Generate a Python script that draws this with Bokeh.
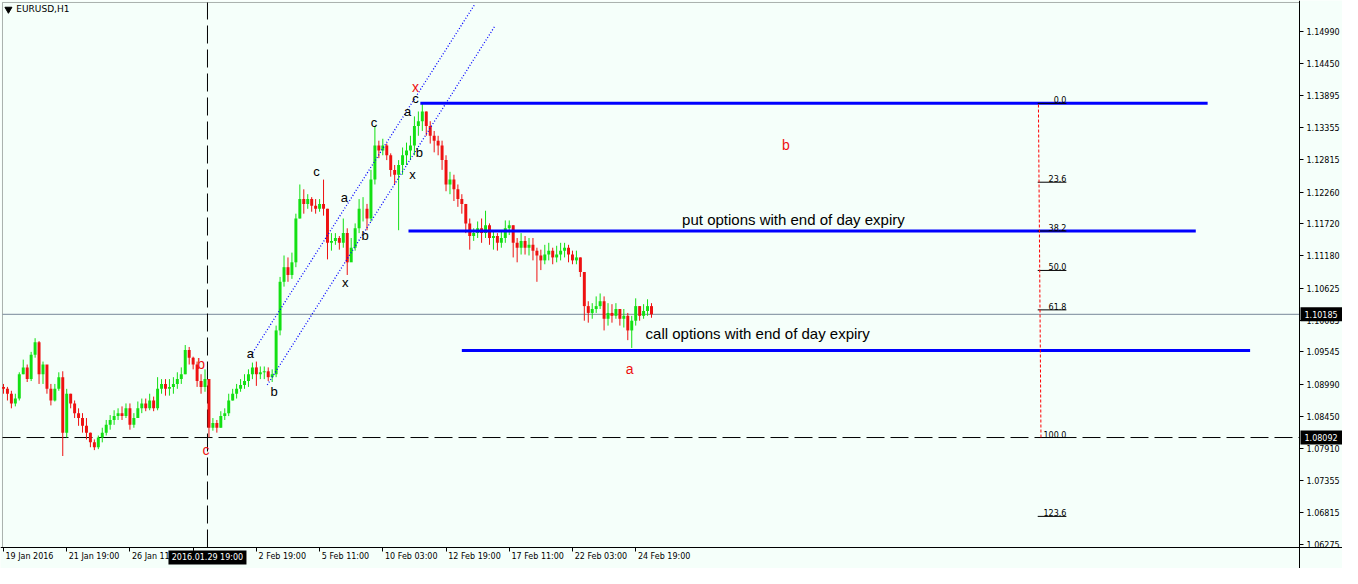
import numpy as np
from bokeh.plotting import figure
from bokeh.models import Range1d, FixedTicker, PrintfTickFormatter, ColumnDataSource, LinearAxis, BoxAnnotation
from bokeh.core.properties import value
from bokeh.embed import file_html
from bokeh.resources import INLINE

symbol = "EURUSD,H1"
bar_step = 4  # hours per drawn bar (H1 chart read at 4-hour resolution)
first_open = 1.08950

close = [1.08919, 1.08836, 1.08671, 1.08754, 1.09167, 1.09283, 1.09084, 1.09498, 1.09712, 1.09167,
         1.09332, 1.08919, 1.08721, 1.08919, 1.09117, 1.08175, 1.08836, 1.08671, 1.08506, 1.08423,
         1.08291, 1.08175, 1.08010, 1.07927, 1.08093, 1.08175, 1.08307, 1.08390, 1.08456, 1.08506,
         1.08456, 1.08588, 1.08307, 1.08423, 1.08588, 1.08671, 1.08588, 1.08721, 1.08588, 1.08919,
         1.09002, 1.08919, 1.08952, 1.09002, 1.09084, 1.09167, 1.09580, 1.09448, 1.09332, 1.09051,
         1.08952, 1.09084, 1.08258, 1.08340, 1.08258, 1.08456, 1.08506, 1.08721, 1.08836, 1.08919,
         1.08985, 1.09051, 1.09167, 1.09283, 1.09167, 1.09200, 1.09217, 1.09117, 1.09167, 1.09911,
         1.10737, 1.10985, 1.10853, 1.11068, 1.11812, 1.12142, 1.12060, 1.12142, 1.12027, 1.11977,
         1.12060, 1.11977, 1.11399, 1.11432, 1.11481, 1.11399, 1.11564, 1.11068, 1.11316, 1.11646,
         1.11977, 1.11977, 1.11812, 1.12473, 1.13052, 1.12969, 1.13052, 1.12886, 1.12638, 1.12556,
         1.12721, 1.12886, 1.12969, 1.13052, 1.13382, 1.13465, 1.13630, 1.13382, 1.13217, 1.13134,
         1.13052, 1.12804, 1.12390, 1.12473, 1.12308, 1.12142, 1.12060, 1.11729, 1.11514, 1.11564,
         1.11646, 1.11564, 1.11696, 1.11481, 1.11514, 1.11399, 1.11481, 1.11646, 1.11696, 1.11399,
         1.11316, 1.11432, 1.11316, 1.11365, 1.11266, 1.11184, 1.11101, 1.11200, 1.11266, 1.11151,
         1.11200, 1.11266, 1.11316, 1.11200, 1.11101, 1.11151, 1.10903, 1.10324, 1.10208, 1.10275,
         1.10324, 1.10407, 1.10109, 1.10208, 1.10159, 1.10275, 1.10109, 1.10159, 1.09911, 1.10076,
         1.10324, 1.10159, 1.10241, 1.10324, 1.10185]

high = [1.09002, 1.08952, 1.08886, 1.08836, 1.09200, 1.09415, 1.09332, 1.09547, 1.09779, 1.09730,
        1.09382, 1.09250, 1.09002, 1.09002, 1.09200, 1.09217, 1.08919, 1.08836, 1.08721, 1.08588,
        1.08506, 1.08423, 1.08175, 1.08059, 1.08126, 1.08258, 1.08390, 1.08473, 1.08555, 1.08588,
        1.08621, 1.08671, 1.08671, 1.08506, 1.08704, 1.08754, 1.08754, 1.08836, 1.08787, 1.09117,
        1.09084, 1.09084, 1.09084, 1.09117, 1.09200, 1.09283, 1.09663, 1.09630, 1.09465, 1.09382,
        1.09167, 1.09250, 1.09051, 1.08423, 1.08390, 1.08539, 1.08588, 1.08836, 1.08919, 1.09002,
        1.09084, 1.09167, 1.09250, 1.09365, 1.09382, 1.09299, 1.09299, 1.09283, 1.09250, 1.09993,
        1.10820, 1.11184, 1.11151, 1.11233, 1.11894, 1.12390, 1.12308, 1.12225, 1.12175, 1.12142,
        1.12142, 1.12473, 1.11977, 1.11564, 1.11564, 1.11514, 1.11812, 1.11646, 1.11481, 1.11729,
        1.12142, 1.12175, 1.12060, 1.12638, 1.13382, 1.13134, 1.13167, 1.13085, 1.12919, 1.12721,
        1.12804, 1.13018, 1.13101, 1.13217, 1.13547, 1.13630, 1.13768, 1.13630, 1.13465, 1.13299,
        1.13217, 1.13134, 1.12886, 1.12605, 1.12556, 1.12390, 1.12225, 1.12060, 1.11812, 1.11646,
        1.11762, 1.11812, 1.11944, 1.11729, 1.11613, 1.11564, 1.11597, 1.11779, 1.11779, 1.11696,
        1.11481, 1.11564, 1.11514, 1.11481, 1.11481, 1.11316, 1.11283, 1.11365, 1.11399, 1.11316,
        1.11349, 1.11399, 1.11399, 1.11365, 1.11266, 1.11266, 1.11151, 1.10903, 1.10407, 1.10374,
        1.10489, 1.10539, 1.10489, 1.10374, 1.10357, 1.10374, 1.10275, 1.10275, 1.10208, 1.10159,
        1.10456, 1.10324, 1.10357, 1.10440, 1.10374]

low = [1.08836, 1.08721, 1.08588, 1.08621, 1.08721, 1.09167, 1.09035, 1.09051, 1.09448, 1.09002,
       1.09002, 1.08836, 1.08638, 1.08704, 1.08886, 1.07778, 1.08093, 1.08588, 1.08423, 1.08291,
       1.08175, 1.08059, 1.07927, 1.07878, 1.07894, 1.08010, 1.08126, 1.08225, 1.08307, 1.08390,
       1.08390, 1.08423, 1.08225, 1.08258, 1.08456, 1.08506, 1.08539, 1.08555, 1.08539, 1.08555,
       1.08836, 1.08803, 1.08803, 1.08836, 1.08919, 1.09002, 1.09167, 1.09332, 1.09250, 1.08952,
       1.08836, 1.08869, 1.08093, 1.08208, 1.08175, 1.08258, 1.08390, 1.08456, 1.08721, 1.08754,
       1.08869, 1.08919, 1.08952, 1.09084, 1.08969, 1.09084, 1.09084, 1.09051, 1.09035, 1.09117,
       1.09828, 1.10655, 1.10737, 1.10787, 1.10985, 1.11812, 1.11894, 1.11977, 1.11927, 1.11894,
       1.11927, 1.11861, 1.11118, 1.11266, 1.11365, 1.11283, 1.11316, 1.10853, 1.11151, 1.11266,
       1.11564, 1.11762, 1.11613, 1.11762, 1.12390, 1.12837, 1.12886, 1.12804, 1.12523, 1.12390,
       1.11613, 1.12556, 1.12721, 1.12804, 1.12886, 1.13217, 1.13299, 1.13217, 1.13085, 1.12936,
       1.12886, 1.12638, 1.12275, 1.12225, 1.12109, 1.12010, 1.11894, 1.11564, 1.11283, 1.11432,
       1.11481, 1.11399, 1.11481, 1.11365, 1.11283, 1.11266, 1.11316, 1.11399, 1.11531, 1.11151,
       1.11068, 1.11200, 1.11200, 1.11184, 1.11101, 1.10737, 1.10936, 1.11035, 1.11101, 1.11035,
       1.11068, 1.11101, 1.11151, 1.11068, 1.11035, 1.11035, 1.10820, 1.10076, 1.10043, 1.10109,
       1.10208, 1.10275, 1.09911, 1.09993, 1.10043, 1.10109, 1.09993, 1.09960, 1.09746, 1.09613,
       1.09993, 1.10076, 1.10109, 1.10159, 1.10126]

price_ticks = [1.14990, 1.14450, 1.13895, 1.13355, 1.12815, 1.12260, 1.11720, 1.11180, 1.10625,
               1.10085, 1.09545, 1.08990, 1.08450, 1.07910, 1.07355, 1.06815, 1.06275]
time_ticks = [0, 64, 128, 192, 256, 320, 384, 448, 512, 576, 640]
time_labels = ["19 Jan 2016", "21 Jan 19:00", "26 Jan 11:00", "", "2 Feb 19:00", "5 Feb 11:00",
               "10 Feb 03:00", "12 Feb 19:00", "17 Feb 11:00", "22 Feb 03:00", "24 Feb 19:00"]

bid_price = 1.10185
cross_price = 1.08092
cross_time = 206.5
cross_label = "2016.01.29 19:00"

fib_high = 1.13768
fib_low = 1.08092
fib_levels = [0.0, 23.6, 38.2, 50.0, 61.8, 100.0, 123.6]

# horizontal trade lines: (t_start, t_end, price)
blue_levels = [(422, 1219, 1.13768), (410, 1207, 1.11600), (464, 1262, 1.09569)]
# channel lines: (t0, p0, t1, p1)
channel = [(249, 1.09448, 477, 1.15448), (267, 1.08985, 497, 1.15068)]

wave_black = [("a", 250, 1.09514), ("b", 274, 1.08869), ("c", 317, 1.12605), ("a", 345, 1.12175),
              ("b", 366, 1.11531), ("x", 346, 1.10721), ("c", 375, 1.13448), ("a", 409, 1.13630),
              ("c", 417, 1.13845), ("b", 421, 1.12936), ("x", 414, 1.12556)]
wave_red = [("x", 417, 1.14043), ("b", 792, 1.13068), ("a", 634, 1.09250), ("b", 200, 1.09349),
            ("c", 205, 1.07878)]

BG = "#F5FFFA"
UP = "#13e013"
DN = "#ee1111"

# ---- layout: the frame covers the whole canvas, the chart box sits inside it ----
W, H = 1342, 568
CL, CT, CR, CB = 2, 2, 43, 21          # chart box margins in pixels
X0, X1 = -1, 1312                      # chart box, time (bar hours)
Y0, Y1 = 1.06224, 1.15481              # chart box, price
tpp = (X1 - X0) / (W - CL - CR)        # time units per pixel
ppp = (Y1 - Y0) / (H - CT - CB)        # price units per pixel
XS, XE = X0 - CL * tpp, X1 + CR * tpp
YS, YE = Y0 - CB * ppp, Y1 + CT * ppp

n = min(len(close), len(high), len(low))
c = np.array(close[:n])
h = np.array(high[:n])
l = np.array(low[:n])
o = np.array([first_open] + close[:n - 1])
t = np.arange(n) * bar_step
col = np.where(c >= o, UP, DN)
src = ColumnDataSource(dict(t=t, o=o, c=c, h=h, l=l, top=np.maximum(o, c), bot=np.minimum(o, c), col=col))

p = figure(width=W, height=H, x_range=Range1d(XS, XE), y_range=Range1d(YS, YE),
           output_backend="svg", toolbar_location=None, y_axis_location="right",
           min_border=0, min_border_left=0, min_border_right=0, min_border_top=0, min_border_bottom=0)
p.grid.visible = False
p.background_fill_color = BG
p.border_fill_color = BG
p.outline_line_color = None

# chart box border
p.add_layout(BoxAnnotation(left=X0, right=X1, bottom=Y0, top=Y1, fill_alpha=0,
                           line_color="black", line_width=1, level="underlay"))

ya = p.yaxis[0]
ya.fixed_location = X1
ya.ticker = FixedTicker(ticks=price_ticks)
ya.formatter = PrintfTickFormatter(format="%.5f")
ya.major_tick_out = 4
ya.major_tick_in = 0
ya.minor_tick_out = 0
ya.minor_tick_in = 0
ya.major_label_standoff = 3
ya.major_label_text_font = "DejaVu Sans"
ya.major_label_text_font_size = "8px"
ya.major_label_text_color = "black"
ya.axis_line_color = "black"
ya.major_tick_line_color = "black"

# x axis: tick marks only
xa = p.xaxis[0]
xa.fixed_location = Y0
xa.ticker = FixedTicker(ticks=time_ticks)
xa.major_tick_out = 4
xa.major_tick_in = 0
xa.minor_tick_out = 0
xa.minor_tick_in = 0
xa.major_label_text_alpha = 0
xa.major_label_text_font_size = "1px"
xa.major_label_standoff = 0
xa.axis_line_color = "black"
xa.major_tick_line_color = "black"

# second x axis carrying left-aligned time labels (label centre shifted right of its tick)
cw = {d: 0.636 for d in "0123456789"}
cw.update({" ": 0.318, ":": 0.337, "J": 0.295, "a": 0.613, "n": 0.634, "F": 0.575, "e": 0.615, "b": 0.635})
centres, overrides = [], {}
for tk, lab in zip(time_ticks, time_labels):
    if not lab:
        continue
    wpx = sum(cw.get(ch, 0.6) for ch in lab) * 8
    cx = round(tk + (2 + wpx / 2) * tpp, 2)
    centres.append(cx)
    overrides[cx] = lab
xb = LinearAxis(ticker=FixedTicker(ticks=centres), major_label_overrides=overrides, fixed_location=Y0,
                major_tick_out=0, major_tick_in=0, minor_tick_out=0, minor_tick_in=0,
                axis_line_color=None, major_label_standoff=4,
                major_label_text_font="DejaVu Sans", major_label_text_font_size="8px",
                major_label_text_color="black")
p.add_layout(xb, "below")

# reference lines
p.line([X0, X1], [bid_price, bid_price], line_color="#778899", line_width=1)
p.line([X0, X1], [cross_price, cross_price], line_color="black", line_width=1, line_dash="18 6")
p.line([cross_time, cross_time], [Y0, Y1], line_color="black", line_width=1, line_dash="18 6")

# candles
p.segment(x0="t", y0="l", x1="t", y1="h", color="col", line_width=1, source=src)
p.vbar(x="t", width=3, top="top", bottom="bot", fill_color="col", line_color=None, source=src)

# channel
for (a0, b0, a1, b1) in channel:
    p.line([a0, a1], [b0, b1], line_color="#0000ff", line_width=1.3, line_dash="1 2")

# blue levels
for (a0, a1, pr) in blue_levels:
    p.line([a0, a1], [pr, pr], line_color="#0000ff", line_width=3)

# fibonacci
rng = fib_high - fib_low
fib_prices = [fib_high - lv / 100.0 * rng for lv in fib_levels]
for pr in fib_prices:
    p.line([1047, 1076], [pr, pr], line_color="black", line_width=1)
p.text(x=[1076] * len(fib_levels), y=fib_prices, text=["%.1f" % lv for lv in fib_levels],
       text_align="right", text_baseline="bottom", text_font=value("DejaVu Sans"),
       text_font_size="8px", text_color="black")
p.line([1050.3, 1047.7], [fib_low, fib_high], line_color="#ff0000", line_width=1, line_dash="3 2")

# wave labels
p.text(x=[w[1] for w in wave_black], y=[w[2] for w in wave_black], text=[w[0] for w in wave_black],
       text_align="center", text_baseline="middle", text_font=value("Liberation Sans"),
       text_font_size="13px", text_color="black")
p.text(x=[w[1] for w in wave_red], y=[w[2] for w in wave_red], text=[w[0] for w in wave_red],
       text_align="center", text_baseline="middle", text_font=value("Liberation Sans"),
       text_font_size="14px", text_color="#ee1111")

p.text(x=[687], y=[1.11795], text=["put options with end of day expiry"], text_align="left",
       text_baseline="middle", text_font=value("Liberation Sans"), text_font_size="15px", text_color="black")
p.text(x=[650], y=[1.09861], text=["call options with end of day expiry"], text_align="left",
       text_baseline="middle", text_font=value("Liberation Sans"), text_font_size="15px", text_color="black")

# title
p.scatter(x=[5], y=[1.15366], marker="inverted_triangle", size=7, color="black")
p.text(x=[13], y=[1.15366], text=[symbol], text_align="left", text_baseline="middle",
       text_font=value("DejaVu Sans"), text_font_size="9px", text_color="black")

# highlighted price boxes on the price scale and time box on the time scale (drawn above the axes)
for pr in (bid_price, cross_price):
    p.quad(left=[X1 + 1 * tpp], right=[XE], top=[pr + 7 * ppp], bottom=[pr - 7 * ppp],
           fill_color="black", line_color=None, level="overlay")
    p.text(x=[X1 + 5 * tpp], y=[pr], text=["%.5f" % pr], text_align="left", text_baseline="middle",
           text_font=value("DejaVu Sans"), text_font_size="8px", text_color="white", level="overlay")
p.quad(left=[cross_time - 39 * tpp], right=[cross_time + 39 * tpp], top=[Y0 - 3 * ppp], bottom=[Y0 - 17 * ppp],
       fill_color="black", line_color=None, level="overlay")
p.text(x=[cross_time], y=[Y0 - 10 * ppp], text=[cross_label], text_align="center", text_baseline="middle",
       text_font=value("DejaVu Sans"), text_font_size="8px", text_color="white", level="overlay")

open("out.html", "w").write(file_html(p, INLINE))
